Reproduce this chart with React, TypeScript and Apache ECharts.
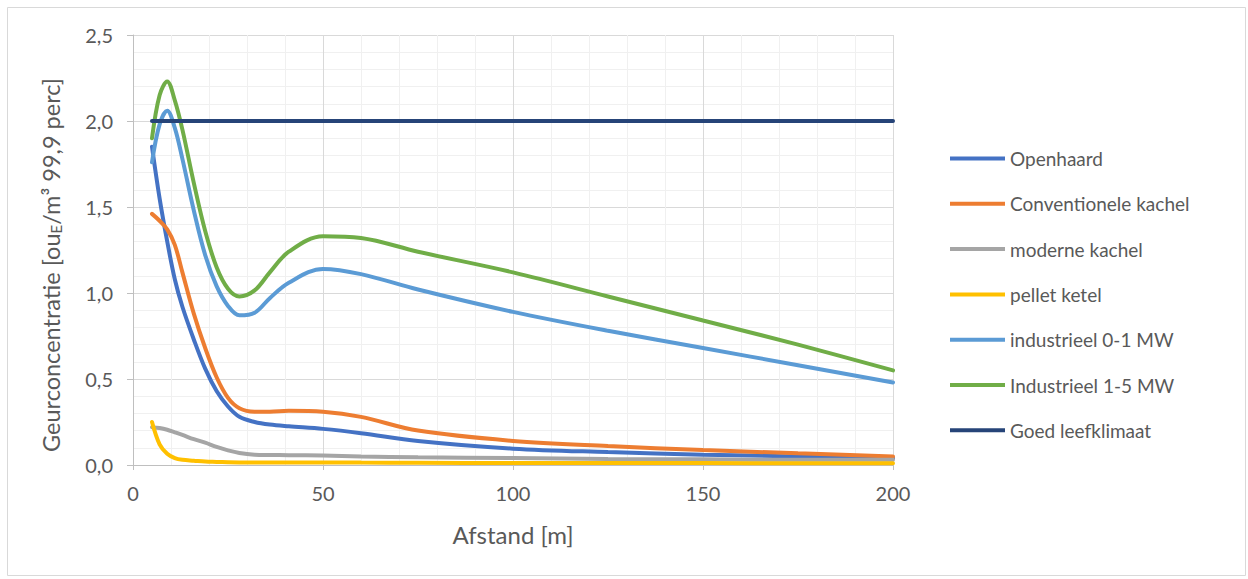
import React, { useEffect, useRef } from "react";
import * as echarts from "echarts";

const distances = [5, 7, 9, 11, 13, 16, 19, 22, 25, 28, 32, 36, 41, 50, 60, 75, 100, 125, 150, 175, 200];

const openhaard = [1.85, 1.55, 1.3, 1.08, 0.92, 0.73, 0.56, 0.43, 0.34, 0.28, 0.25, 0.235, 0.225, 0.21, 0.185, 0.14, 0.095, 0.075, 0.06, 0.05, 0.04];
const conventionele = [1.46, 1.42, 1.37, 1.28, 1.12, 0.88, 0.68, 0.51, 0.39, 0.33, 0.31, 0.31, 0.315, 0.31, 0.28, 0.2, 0.14, 0.11, 0.087, 0.068, 0.05];
const moderne = [0.22, 0.215, 0.205, 0.19, 0.175, 0.15, 0.13, 0.105, 0.085, 0.07, 0.06, 0.058, 0.057, 0.055, 0.05, 0.045, 0.04, 0.035, 0.033, 0.03, 0.03];
const pellet = [0.25, 0.12, 0.065, 0.04, 0.03, 0.025, 0.02, 0.018, 0.016, 0.015, 0.015, 0.015, 0.015, 0.015, 0.014, 0.013, 0.012, 0.012, 0.011, 0.01, 0.01];
const industrieel01 = [1.76, 1.98, 2.06, 1.96, 1.78, 1.48, 1.22, 1.04, 0.925, 0.87, 0.885, 0.97, 1.06, 1.14, 1.11, 1.02, 0.89, 0.78, 0.68, 0.58, 0.48];
const industrieel15 = [1.9, 2.15, 2.23, 2.12, 1.95, 1.64, 1.36, 1.15, 1.025, 0.98, 1.015, 1.12, 1.24, 1.33, 1.32, 1.24, 1.12, 0.98, 0.84, 0.7, 0.55];

const goedX = [5, 200];
const goedY = [2.0, 2.0];

const seriesNames = [
  "Openhaard",
  "Conventionele kachel",
  "moderne kachel",
  "pellet ketel",
  "industrieel 0-1 MW",
  "Industrieel 1-5 MW",
  "Goed leefklimaat",
];
const seriesColors = ["#4472C4", "#ED7D31", "#A5A5A5", "#FFC000", "#5B9BD5", "#70AD47", "#264478"];

const xTicks = { min: 0, max: 200, interval: 50 };
const yTicks = { min: 0, max: 2.5, interval: 0.5 };

const yTitle = "{n|Geurconcentratie [ou}{s|E}{n|/m³ 99,9 perc]}";
const xTitle = "Afstand [m]";

const FONT = "Lato";
const TEXT = "#595959";

export default function App() {
  const ref = useRef<HTMLDivElement>(null);

  useEffect(() => {
    if (!ref.current) return;
    const chart = echarts.init(ref.current, null, { renderer: "svg" });

    const valueSets = [openhaard, conventionele, moderne, pellet, industrieel01, industrieel15];
    const series: any[] = valueSets.map((vals, i) => ({
      name: seriesNames[i],
      type: "line",
      data: distances.map((d, j) => [d, vals[j]]),
      smooth: 0.35,
      showSymbol: false,
      symbol: "none",
      lineStyle: { width: 4, color: seriesColors[i], cap: "round" },
      itemStyle: { color: seriesColors[i] },
      z: 2 + i,
    }));
    series.push({
      name: seriesNames[6],
      type: "line",
      data: goedX.map((d, j) => [d, goedY[j]]),
      showSymbol: false,
      symbol: "none",
      lineStyle: { width: 4, color: seriesColors[6], cap: "round" },
      itemStyle: { color: seriesColors[6] },
      z: 10,
    });

    chart.setOption({
      animation: false,
      backgroundColor: "#ffffff",
      textStyle: { fontFamily: FONT },
      grid: { left: 133, right: 355, top: 35, bottom: 114, containLabel: false },
      legend: {
        orient: "vertical",
        left: 950,
        top: 149,
        padding: 0,
        icon: "rect",
        itemWidth: 55,
        itemHeight: 4,
        itemGap: 26.3,
        data: seriesNames,
        textStyle: { fontFamily: FONT, fontSize: 19, color: TEXT },
      },
      xAxis: {
        type: "value",
        min: xTicks.min,
        max: xTicks.max,
        interval: xTicks.interval,
        name: xTitle,
        nameLocation: "middle",
        nameGap: 57,
        nameTextStyle: { fontFamily: FONT, fontSize: 24, color: TEXT },
        axisLine: { show: true, lineStyle: { color: "#BFBFBF", width: 1 } },
        axisTick: { show: true, length: 5, lineStyle: { color: "#BFBFBF" } },
        axisLabel: { fontFamily: FONT, fontSize: 20, color: TEXT, margin: 18 },
        splitLine: { show: true, lineStyle: { color: "#D9D9D9", width: 1 } },
        minorTick: { show: false, splitNumber: 5 },
        minorSplitLine: { show: true, lineStyle: { color: "#F0F0F0", width: 1 } },
      },
      yAxis: {
        type: "value",
        min: yTicks.min,
        max: yTicks.max,
        interval: yTicks.interval,
        axisLine: { show: true, lineStyle: { color: "#BFBFBF", width: 1 } },
        axisTick: { show: true, length: 6, lineStyle: { color: "#BFBFBF" } },
        axisLabel: {
          fontFamily: FONT,
          fontSize: 20,
          color: TEXT,
          margin: 20,
          formatter: (v: number) => v.toFixed(1).replace(".", ","),
        },
        splitLine: { show: true, lineStyle: { color: "#D9D9D9", width: 1 } },
        minorTick: { show: false, splitNumber: 5 },
        minorSplitLine: { show: true, lineStyle: { color: "#F0F0F0", width: 1 } },
      },
      graphic: [
        {
          type: "rect",
          shape: { x: 7.5, y: 7.5, width: 1238, height: 568 },
          style: { fill: "none", stroke: "#D9D9D9", lineWidth: 1 },
          silent: true,
          z: -1,
        },
        {
          type: "text",
          x: 50,
          y: 265,
          rotation: Math.PI / 2,
          silent: true,
          style: {
            text: yTitle,
            align: "center",
            verticalAlign: "middle",
            fill: TEXT,
            font: `23.5px ${FONT}`,
            rich: {
              n: { fontFamily: FONT, fontSize: 23.5, fill: TEXT, lineHeight: 26, verticalAlign: "bottom" },
              s: { fontFamily: FONT, fontSize: 15, fill: TEXT, lineHeight: 15, verticalAlign: "bottom" },
            },
          },
        },
      ],
      series,
    });

    return () => chart.dispose();
  }, []);

  return (
    <div
      ref={ref}
      style={{ position: "absolute", left: 0, top: 0, width: 1248, height: 579, background: "#fff" }}
    />
  );
}
